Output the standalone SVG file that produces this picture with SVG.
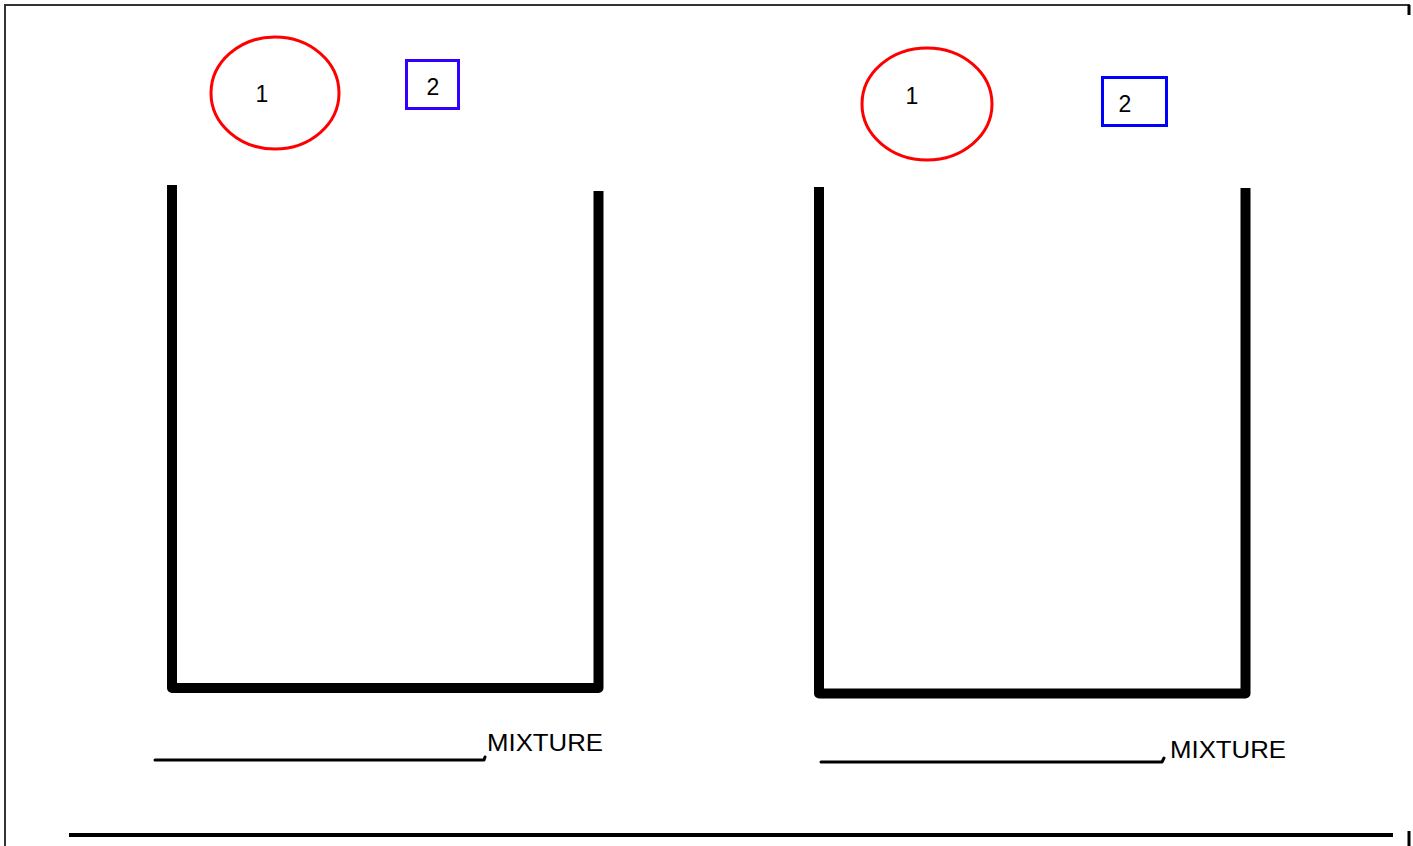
<svg xmlns="http://www.w3.org/2000/svg" width="1413" height="846" viewBox="0 0 1413 846">
<style>
.beaker{fill:none;stroke:#000;stroke-width:10;stroke-linejoin:round;stroke-linecap:butt}
.ell{fill:none;stroke:#ff0000;stroke-width:3}
.lbl{font-family:"Liberation Sans",Arial,sans-serif;font-size:23px;fill:#000}
.mix{font-family:"Liberation Sans",Arial,sans-serif;font-size:24px;fill:#000}
.under{fill:none;stroke:#000;stroke-width:3;stroke-linecap:round;stroke-linejoin:round}
</style>
<rect width="1413" height="846" fill="#fff"/>
<g id="frame" fill="none" stroke="#000">
<polyline points="5,846 5,5 1410,5" stroke-width="2" stroke="#333"/>
<line x1="1409" y1="5" x2="1409" y2="15" stroke-width="3"/>
<line x1="1409" y1="831" x2="1409" y2="846" stroke-width="3"/>
<line x1="69" y1="835" x2="1393" y2="835" stroke-width="4"/>
</g>
<g id="beaker-left">
<polyline class="beaker" points="172,185 172,688 598.5,688 598.5,191"/>
</g>
<g id="beaker-right">
<polyline class="beaker" points="819,187 819,693.5 1245.5,693.5 1245.5,188"/>
</g>
<g id="circle1-left">
<ellipse class="ell" cx="275" cy="93" rx="64" ry="56"/>
<text class="lbl" x="262" y="102" text-anchor="middle">1</text>
</g>
<g id="square2-left">
<rect x="406.5" y="60.5" width="52" height="48" fill="none" stroke="#3300ff" stroke-width="3"/>
<text class="lbl" x="433" y="95" text-anchor="middle">2</text>
</g>
<g id="circle1-right">
<ellipse class="ell" cx="927" cy="104" rx="65" ry="56"/>
<text class="lbl" x="912" y="104" text-anchor="middle">1</text>
</g>
<g id="square2-right">
<rect x="1102.5" y="77.5" width="64" height="48" fill="none" stroke="#0000ff" stroke-width="3"/>
<text class="lbl" x="1125" y="112" text-anchor="middle">2</text>
</g>
<g id="label-left">
<polyline class="under" points="155,760 484,760 485,757"/>
<text class="mix" x="487" y="751" textLength="116" lengthAdjust="spacingAndGlyphs">MIXTURE</text>
</g>
<g id="label-right">
<polyline class="under" points="821,762 1162,762 1164,758"/>
<text class="mix" x="1170" y="758" textLength="116" lengthAdjust="spacingAndGlyphs">MIXTURE</text>
</g>
</svg>
